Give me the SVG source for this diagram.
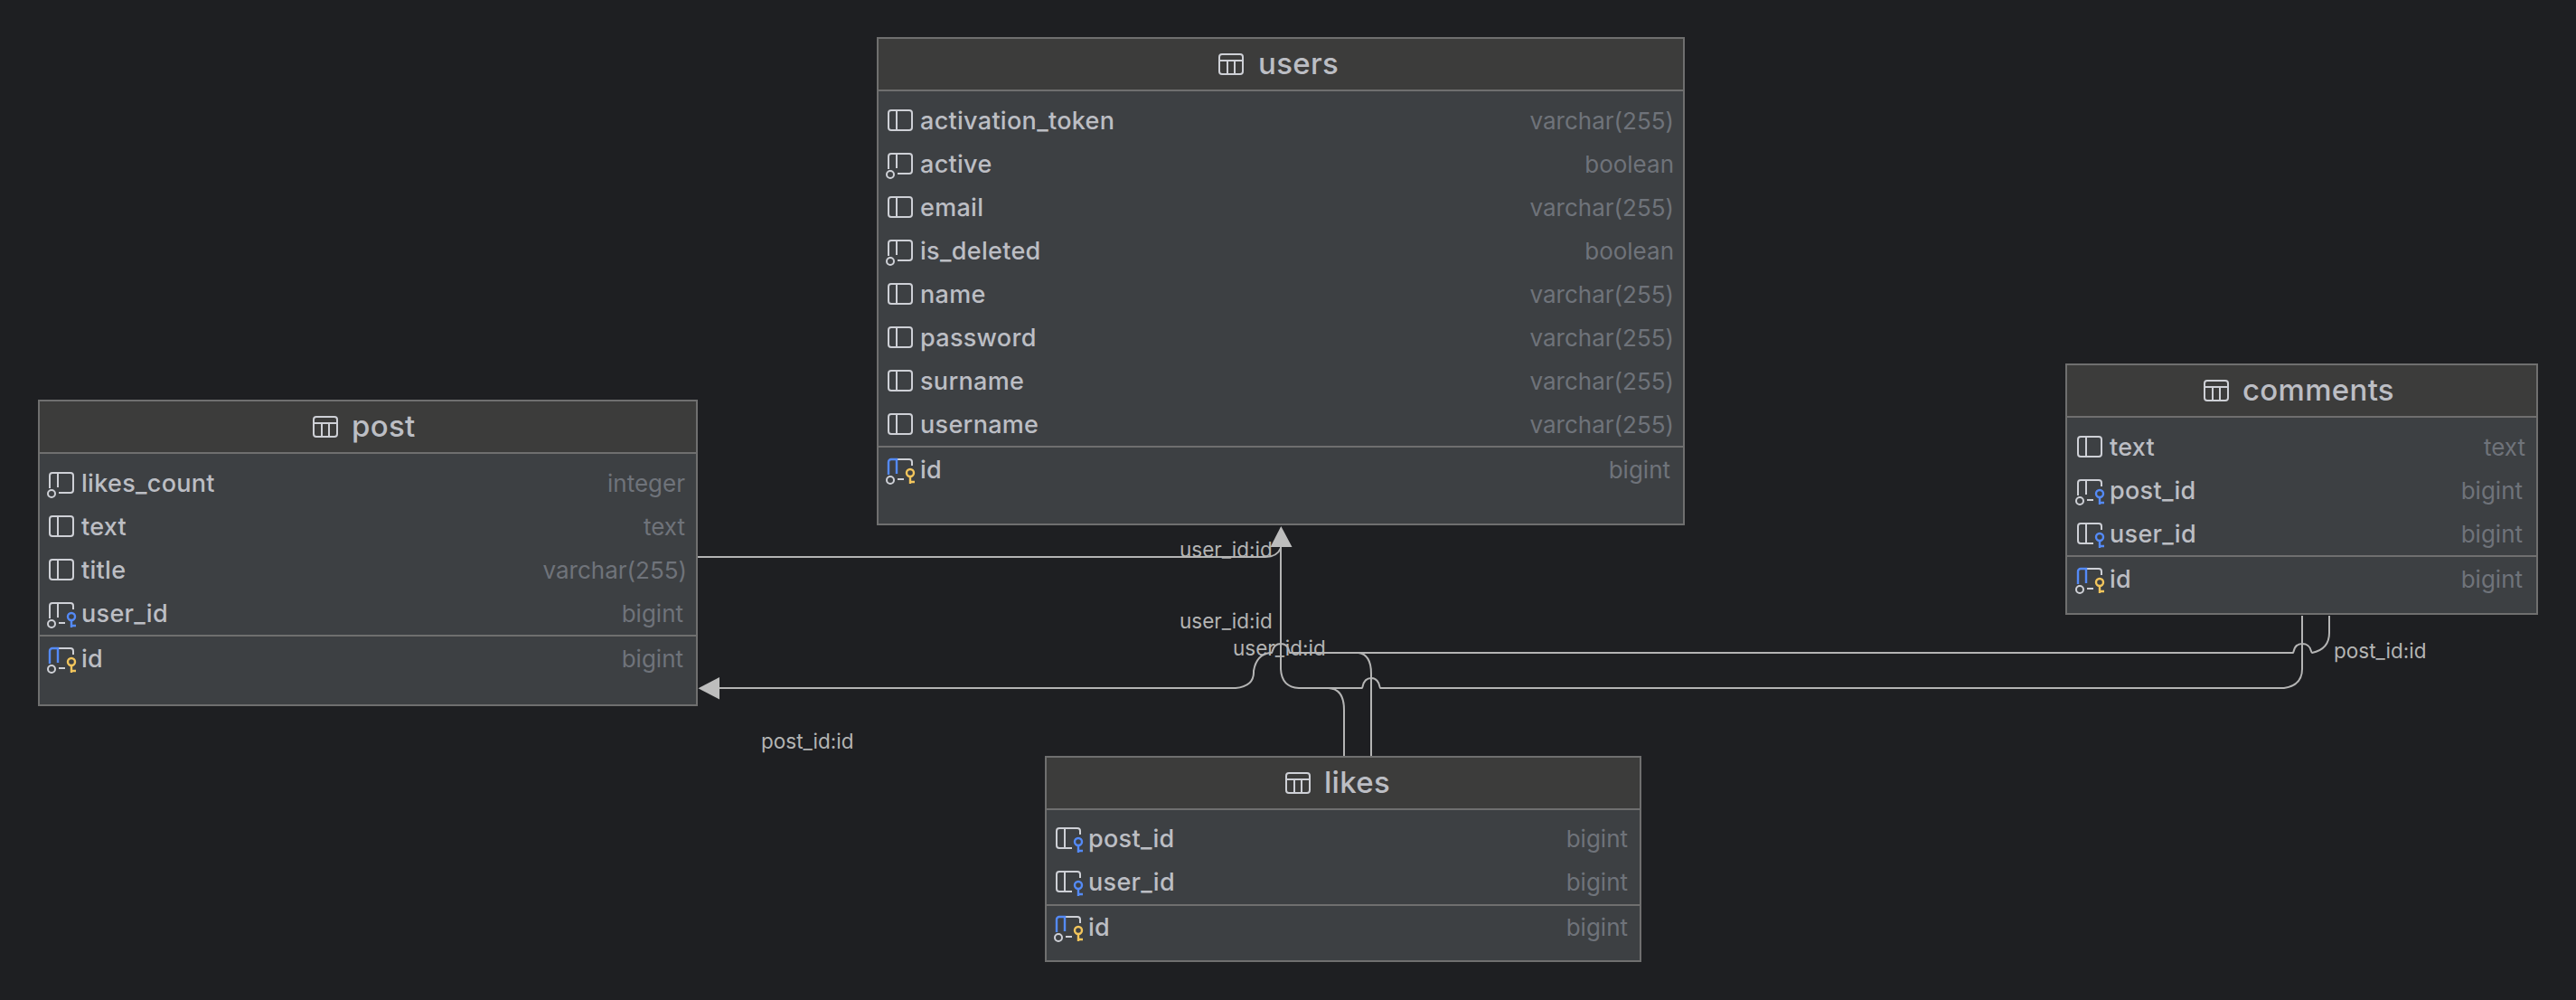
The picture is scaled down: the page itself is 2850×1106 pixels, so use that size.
<svg xmlns="http://www.w3.org/2000/svg" width="2850" height="1106" viewBox="0 0 2850 1106">
<style>
text{font-family:Inter,"Noto Sans","Liberation Sans",sans-serif}
.box{fill:#3d4043;stroke:#6f6f6f;stroke-width:2}
.head{fill:#3c3c3b}
.div{stroke:#6f6f6f;stroke-width:2;fill:none}
.title{font-size:33px;fill:#bcbec4;letter-spacing:.3px;font-weight:500}
.name{font-size:27px;fill:#bcbec4;letter-spacing:.3px;font-weight:500}
.type{font-size:26px;fill:#6f737a;text-anchor:end}
.lbl{font-size:22.5px;fill:#b4b4b4}
.ic{fill:none;stroke:#ced0d6;stroke-width:2}
.bl{fill:none;stroke:#548af7;stroke-width:2.400}
.ye{fill:none;stroke:#f2c55c;stroke-width:2.400}
.cn{fill:none;stroke:#b4b4b4;stroke-width:2}
.ah{fill:#bdbdbd}
</style>
<defs>
<g id="ic-tab" class="ic"><rect x="1" y="1" width="26" height="22" rx="3"/><path d="M1 8H27M10 8V23M18 8V23"/></g>
<g id="ic-col" class="ic"><rect x="1" y="1" width="26" height="22" rx="3"/><path d="M10 1V23"/></g>
<g id="ic-null" class="ic"><path d="M1 18V4a3 3 0 0 1 3-3H24a3 3 0 0 1 3 3V20a3 3 0 0 1-3 3H11M10 1V17"/><circle cx="3" cy="24" r="4"/></g>
<g id="key-b" class="bl"><circle cx="25" cy="16" r="4"/><path d="M25 20V28M25 26H30"/></g>
<g id="key-y" class="ye"><circle cx="25" cy="16" r="4"/><path d="M25 20V28M25 26H30"/></g>
<g id="ic-fk" class="ic"><path d="M18 23H4a3 3 0 0 1-3-3V4a3 3 0 0 1 3-3H24a3 3 0 0 1 3 3V8M10 1V23"/><use href="#key-b"/></g>
<g id="ic-nfk" class="ic"><path d="M1 18V4a3 3 0 0 1 3-3H24a3 3 0 0 1 3 3V8M10 1V17M11 23H18"/><circle cx="3" cy="24" r="4"/><use href="#key-b"/></g>
<g id="ic-pk"><path class="ic" d="M10 1H24a3 3 0 0 1 3 3V8M11 23H18"/><path class="bl" d="M1 18V4a3 3 0 0 1 3-3H10V17"/><circle class="ic" cx="3" cy="24" r="4"/><use href="#key-y"/></g>
</defs>
<rect width="2850" height="1106" fill="#1e1f22"/>

<g id="connectors">
<path class="cn" d="M772 616H1400Q1413 616 1417 606"/>
<path class="cn" d="M1417 600V740Q1418 760 1437 761H1470Q1487 762 1487 785V836"/>
<path class="cn" d="M1470 761H1507C1508 761 1507 750 1517 750C1527 750 1526 761 1527 761H2527Q2547 758 2547 740V681"/>
<path class="cn" d="M2577 681V700Q2577 718 2558 722C2556 722 2558 712 2547 712C2537 712 2538 722 2537 722H1503Q1517 724 1517 745V836"/>
<path class="cn" d="M1510 722H1427C1426 722 1427 712 1417 712C1407 712 1408 722 1407 722H1405Q1390 724 1387 742Q1388 759 1367 761H790"/>
<polygon class="ah" points="1417.300,582 1429.500,605 1405.500,605"/>
<polygon class="ah" points="772.500,761.300 796,749 796,773.500"/>
</g>

<g id="edge-labels">
<text class="lbl" x="1305" y="616">user_id:id</text>
<text class="lbl" x="1305" y="695">user_id:id</text>
<text class="lbl" x="1364" y="725">user_id:id</text>
<text class="lbl" x="2582" y="727.500">post_id:id</text>
<text class="lbl" x="842" y="827.500">post_id:id</text>
</g>

<g id="node-users">
<rect class="box" x="971" y="42" width="892" height="538"/>
<rect class="head" x="972" y="43" width="890" height="56"/>
<path class="div" d="M972 100H1862M972 494H1862"/>
<use href="#ic-tab" x="1348" y="59"/>
<text class="title" x="1392" y="82">users</text>
<use href="#ic-col" x="982" y="121"/><text class="name" x="1018" y="143">activation_token</text><text class="type" x="1852" y="143">varchar(255)</text>
<use href="#ic-null" x="982" y="169"/><text class="name" x="1018" y="191">active</text><text class="type" x="1852" y="191">boolean</text>
<use href="#ic-col" x="982" y="217"/><text class="name" x="1018" y="239">email</text><text class="type" x="1852" y="239">varchar(255)</text>
<use href="#ic-null" x="982" y="265"/><text class="name" x="1018" y="287">is_deleted</text><text class="type" x="1852" y="287">boolean</text>
<use href="#ic-col" x="982" y="313"/><text class="name" x="1018" y="335">name</text><text class="type" x="1852" y="335">varchar(255)</text>
<use href="#ic-col" x="982" y="361"/><text class="name" x="1018" y="383">password</text><text class="type" x="1852" y="383">varchar(255)</text>
<use href="#ic-col" x="982" y="409"/><text class="name" x="1018" y="431">surname</text><text class="type" x="1852" y="431">varchar(255)</text>
<use href="#ic-col" x="982" y="457"/><text class="name" x="1018" y="479">username</text><text class="type" x="1852" y="479">varchar(255)</text>
<use href="#ic-pk" x="982" y="507"/><text class="name" x="1018" y="529">id</text><text class="type" x="1848" y="529">bigint</text>
</g>

<g id="node-post">
<rect class="box" x="43" y="443" width="728" height="337"/>
<rect class="head" x="44" y="444" width="726" height="56"/>
<path class="div" d="M44 501H770M44 703H770"/>
<use href="#ic-tab" x="346" y="460"/>
<text class="title" x="389" y="483">post</text>
<use href="#ic-null" x="54" y="522"/><text class="name" x="90" y="544">likes_count</text><text class="type" x="758" y="544">integer</text>
<use href="#ic-col" x="54" y="570"/><text class="name" x="90" y="592">text</text><text class="type" x="758" y="592">text</text>
<use href="#ic-col" x="54" y="618"/><text class="name" x="90" y="640">title</text><text class="type" x="760" y="640">varchar(255)</text>
<use href="#ic-nfk" x="54" y="666"/><text class="name" x="90" y="688">user_id</text><text class="type" x="756" y="688">bigint</text>
<use href="#ic-pk" x="54" y="716"/><text class="name" x="90" y="738">id</text><text class="type" x="756" y="738">bigint</text>
</g>

<g id="node-likes">
<rect class="box" x="1157" y="837" width="658" height="226"/>
<rect class="head" x="1158" y="838" width="656" height="56"/>
<path class="div" d="M1158 895H1814M1158 1001H1814"/>
<use href="#ic-tab" x="1422" y="854"/>
<text class="title" x="1465" y="877">likes</text>
<use href="#ic-fk" x="1168" y="915"/><text class="name" x="1204" y="937">post_id</text><text class="type" x="1801" y="937">bigint</text>
<use href="#ic-fk" x="1168" y="963"/><text class="name" x="1204" y="985">user_id</text><text class="type" x="1801" y="985">bigint</text>
<use href="#ic-pk" x="1168" y="1013"/><text class="name" x="1204" y="1035">id</text><text class="type" x="1801" y="1035">bigint</text>
</g>

<g id="node-comments">
<rect class="box" x="2286" y="403" width="521" height="276"/>
<rect class="head" x="2287" y="404" width="519" height="56"/>
<path class="div" d="M2287 461H2806M2287 615H2806"/>
<use href="#ic-tab" x="2438" y="420"/>
<text class="title" x="2481" y="443">comments</text>
<use href="#ic-col" x="2298" y="482"/><text class="name" x="2334" y="504">text</text><text class="type" x="2794" y="504">text</text>
<use href="#ic-nfk" x="2298" y="530"/><text class="name" x="2334" y="552">post_id</text><text class="type" x="2791" y="552">bigint</text>
<use href="#ic-fk" x="2298" y="578"/><text class="name" x="2334" y="600">user_id</text><text class="type" x="2791" y="600">bigint</text>
<use href="#ic-pk" x="2298" y="628"/><text class="name" x="2334" y="650">id</text><text class="type" x="2791" y="650">bigint</text>
</g>
</svg>
